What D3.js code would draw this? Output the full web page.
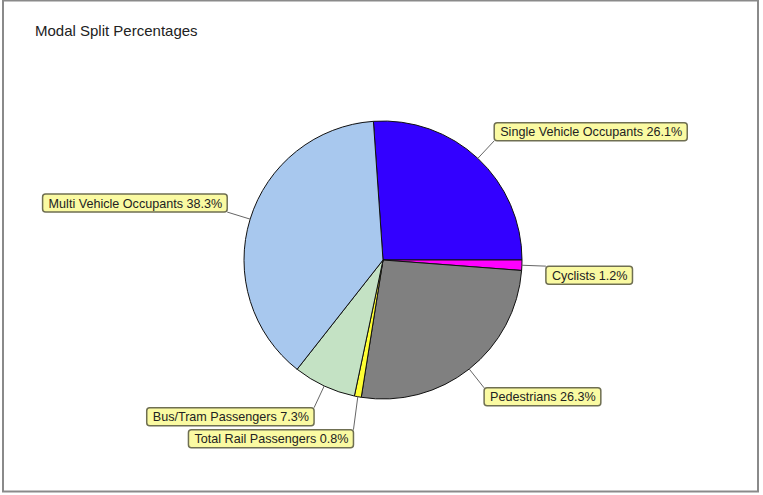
<!DOCTYPE html>
<html>
<head>
<meta charset="utf-8">
<script src="https://d3js.org/d3.v7.min.js"></script>
<style>
  body { margin: 0; background: #fff; }
  text { font-family: Arial, "Liberation Sans", sans-serif; }
</style>
</head>
<body>
<div id="chart"></div>
<script>
// chart data
const categories = ["Single Vehicle Occupants", "Cyclists", "Pedestrians",
  "Total Rail Passengers", "Bus/Tram Passengers", "Multi Vehicle Occupants"];
const shares = [26.1, 1.2, 26.3, 0.8, 7.3, 38.3];
const colors = ["#3300ff", "#ff00ff", "#808080", "#ffff33", "#c4e2c4", "#a8c8ee"];
const title = "Modal Split Percentages";

const W = 763, H = 495;
const cx = 383, cy = 260, R = 139, labelR = 163;

const svg = d3.select("#chart").append("svg")
  .attr("width", W).attr("height", H);

// frame
svg.append("rect")
  .attr("x", 3).attr("y", 0.5).attr("width", 755).attr("height", 491)
  .attr("fill", "#fff").attr("stroke", "#8a8a8a").attr("stroke-width", 2);

svg.append("text")
  .attr("x", 35).attr("y", 36)
  .attr("font-size", "15px").attr("fill", "#222")
  .text(title);

const total = d3.sum(shares);
// first slice ends at 3 o'clock
const start = Math.PI / 2 - 2 * Math.PI * shares[0] / total;

const pie = d3.pie().sort(null).value(d => d)
  .startAngle(start).endAngle(start + 2 * Math.PI);
const arcs = pie(shares);

const arc = d3.arc().innerRadius(0).outerRadius(R);
const g = svg.append("g").attr("transform", `translate(${cx},${cy})`);

g.selectAll("path.slice")
  .data(arcs)
  .enter().append("path")
  .attr("class", "slice")
  .attr("d", arc)
  .attr("fill", (d, i) => colors[i])
  .attr("stroke", "#111")
  .attr("stroke-width", 1);

// label layout
const fontPx = 12.6, boxH = 18, padL = 6, padR = 5;
const labels = arcs.map((d, i) => {
  const a = (d.startAngle + d.endAngle) / 2;
  const sx = Math.sin(a), sy = -Math.cos(a);
  return {
    i, a,
    text: categories[i] + " " + shares[i].toFixed(1) + "%",
    px: R * sx, py: R * sy,
    ax: labelR * sx, ay: labelR * sy,
    right: sx >= 0,
    upper: sy < 0
  };
});

// measure text widths
const tmp = svg.append("text").attr("font-size", fontPx + "px");
labels.forEach(l => { tmp.text(l.text); l.w = tmp.node().getComputedTextLength() + padL + padR; });
tmp.remove();

labels.forEach(l => {
  l.bx = l.right ? l.ax : l.ax - l.w;
  l.by = l.upper ? l.ay - boxH : l.ay;
});

// push overlapping lower labels down
const lower = labels.filter(l => !l.upper).sort((a, b) => a.by - b.by);
for (let k = 1; k < lower.length; k++) {
  const p = lower[k - 1], c = lower[k];
  const overlapX = c.bx < p.bx + p.w && p.bx < c.bx + c.w;
  if (overlapX && c.by < p.by + boxH + 4) {
    c.by = p.by + boxH + 4;
    c.ay = c.by;
  }
}

const lg = g.selectAll("g.lbl").data(labels).enter().append("g").attr("class", "lbl");

lg.append("line")
  .attr("x1", d => d.px).attr("y1", d => d.py)
  .attr("x2", d => d.ax).attr("y2", d => d.ay)
  .attr("stroke", "#666").attr("stroke-width", 1);

lg.append("rect")
  .attr("x", d => d.bx).attr("y", d => d.by)
  .attr("width", d => d.w).attr("height", boxH)
  .attr("rx", 3).attr("ry", 3)
  .attr("fill", "#fafaa2")
  .attr("stroke", "#6f6f52").attr("stroke-width", 1.5);

lg.append("text")
  .attr("x", d => d.bx + padL).attr("y", d => d.by + 13.5)
  .attr("font-size", fontPx + "px").attr("fill", "#222")
  .text(d => d.text);
</script>
</body>
</html>
